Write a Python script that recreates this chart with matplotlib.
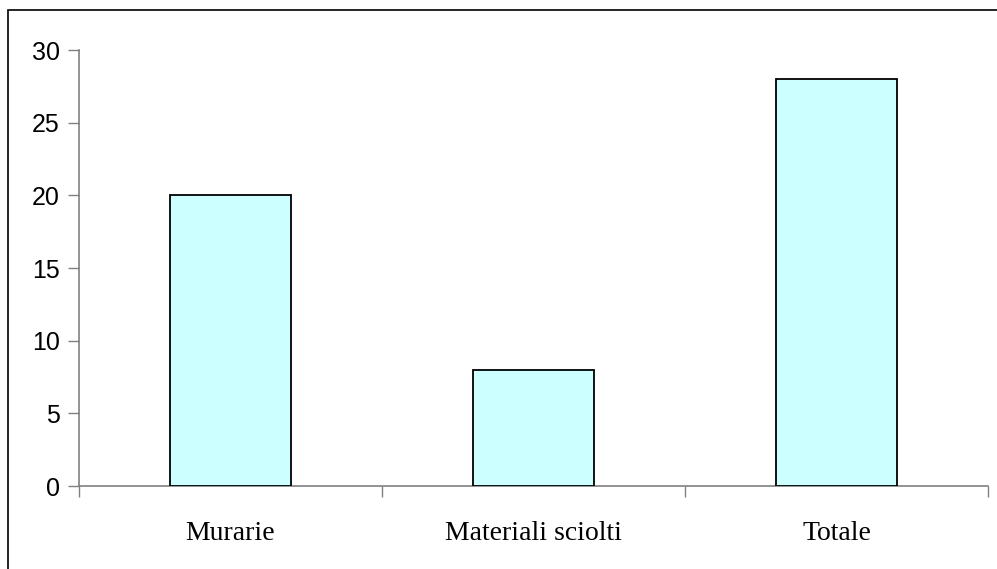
import matplotlib
matplotlib.use("Agg")
import matplotlib.pyplot as plt
from matplotlib.patches import Rectangle

categories = ["Murarie", "Materiali sciolti", "Totale"]
values = [20, 8, 28]
y_ticks = [0, 5, 10, 15, 20, 25, 30]

W, H = 997, 569
fig = plt.figure(figsize=(W / 100, H / 100), dpi=100)

# outer chart frame (extends past right and bottom edges)
fig.patches.append(Rectangle((8 / W, -0.1), 1.2, (H - 10) / H + 0.1,
                             transform=fig.transFigure, fill=False,
                             edgecolor="black", linewidth=1.2))

ax = fig.add_axes([79 / W, (H - 486) / H, (988 - 79) / W, (486 - 50) / H])
x = range(len(categories))
ax.bar(x, values, width=0.4, color="#CCFFFF", edgecolor="black", linewidth=1.3, zorder=3)

ax.set_xlim(-0.5, len(categories) - 0.5)
ax.set_ylim(0, 30)
ax.set_yticks(y_ticks)
ax.set_yticklabels([str(v) for v in y_ticks], fontfamily="Liberation Sans", fontsize=18)

# category labels centred, tick marks on boundaries
ax.set_xticks([i - 0.5 for i in range(len(categories) + 1)])
ax.set_xticklabels([])
ax.set_xticks(list(x), minor=True)
ax.set_xticklabels(categories, minor=True, fontfamily="Liberation Serif", fontsize=20)
ax.tick_params(axis="x", which="minor", length=0, pad=25)
ax.tick_params(axis="x", which="major", length=8, color="#808080", width=1)
ax.tick_params(axis="y", length=8, color="#808080", width=1, pad=6)

for s in ("top", "right"):
    ax.spines[s].set_visible(False)
for s in ("left", "bottom"):
    ax.spines[s].set_color("#808080")
    ax.spines[s].set_linewidth(1.2)

fig.savefig("out.png", dpi=100)
